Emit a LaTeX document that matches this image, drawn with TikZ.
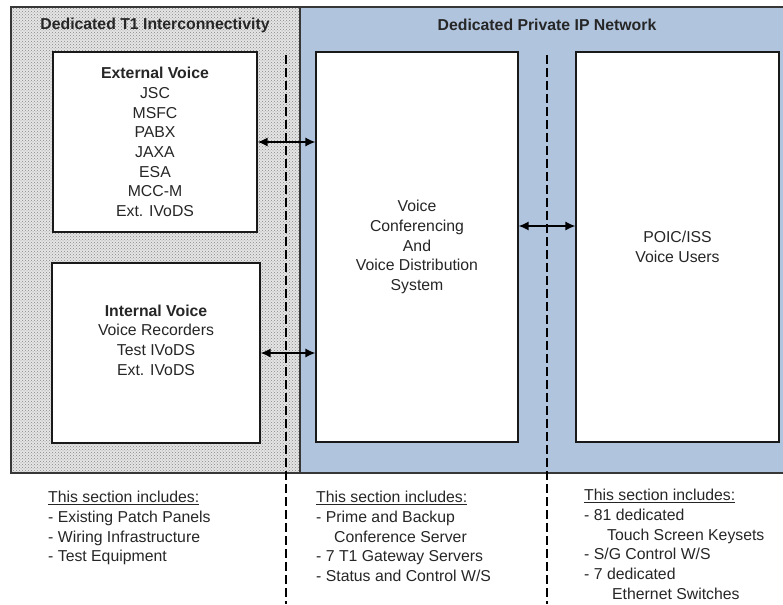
\documentclass[tikz,border=0pt]{standalone}
\usepackage{fontspec}
\setmainfont{Liberation Sans}
\usepackage{xcolor}
\usetikzlibrary{positioning, calc, arrows.meta, patterns}
\definecolor{netblue}{RGB}{176,196,222}
\definecolor{frameline}{RGB}{55,55,55}
\tikzset{
  every node/.style={font=\fontsize{15.8}{19.7}\selectfont, text=black!85},
  unit/.style={draw=black!90, line width=1.2pt, fill=white, inner sep=0pt, align=center},
  link/.style={{Latex[length=10pt,width=9pt]}-{Latex[length=10pt,width=9pt]}, line width=1.3pt},
  divider/.style={dash pattern=on 9pt off 4pt, line width=1.3pt},
  notes/.style={align=left, anchor=north west, inner sep=0pt}
}

\begin{document}
\begin{tikzpicture}[x=1pt,y=-1pt]
    \useasboundingbox (0,0) rectangle (783,604);

    % the two areas
    \fill[netblue] (300,7) rectangle (783,473);
    \draw[frameline, line width=1.2pt] (783,7) -- (300,7) -- (300,473) -- (783,473);
    \path[preaction={fill=gray!20}, pattern=crosshatch dots, pattern color=gray!95]
      (11,7) rectangle (300,473);
    \draw[frameline, line width=1.2pt] (11,7) rectangle (300,473);

    \node (t1title) at (155,25) {\textbf{Dedicated T1 Interconnectivity}};
    \node (iptitle) at (547,25) {\textbf{Dedicated Private IP Network}};

    % dashed separators
    \coordinate (sepa) at (286,55);
    \coordinate (sepb) at (547,55);
    \draw[divider] (sepa) -- (sepa |- 0,604);
    \draw[divider] (sepb) -- (sepb |- 0,604);

    \node[unit, minimum width=204pt, minimum height=180pt] (ext) at (155,142) {
      \textbf{External Voice} \\ JSC \\ MSFC \\ PABX \\ JAXA \\ ESA \\ MCC-M \\ Ext. IVoDS
    };
    \node[unit, minimum width=208pt, minimum height=180pt] (int) at (156,353) {};
    \node[align=center] (intlbl) at (156,340) {
      \textbf{Internal Voice} \\ Voice Recorders \\ Test IVoDS \\ Ext. IVoDS
    };

    \node[unit, minimum width=202pt, minimum height=390pt] (vcs) at (417,247) {
      Voice \\ Conferencing \\ And \\ Voice Distribution \\ System
    };
    \node[unit, minimum width=203pt, minimum height=390pt] (poic) at (677.5,247) {
      POIC/ISS \\ Voice Users
    };

    \path [link]
    (ext.east) edge (ext.east -| vcs.west)
    (int.east) edge (int.east -| vcs.west)
    ([yshift=21pt]vcs.east) edge ([yshift=21pt]vcs.east -| poic.west);

    \node[notes] (t1notes) at (48,491) {
      \underline{This section includes:} \\
      - Existing Patch Panels \\
      - Wiring Infrastructure \\
      - Test Equipment
    };
    \node[notes] (vcsnotes) at (316,491) {
      \underline{This section includes:} \\
      - Prime and Backup \\
      \hspace*{18pt}Conference Server \\
      - 7 T1 Gateway Servers \\
      - Status and Control W/S
    };
    \node[notes] (poicnotes) at (584,489) {
      \underline{This section includes:} \\
      - 81 dedicated \\
      \hspace*{23pt}Touch Screen Keysets \\
      - S/G Control W/S \\
      - 7 dedicated \\
      \hspace*{28pt}Ethernet Switches
    };
  \end{tikzpicture}
\end{document}
